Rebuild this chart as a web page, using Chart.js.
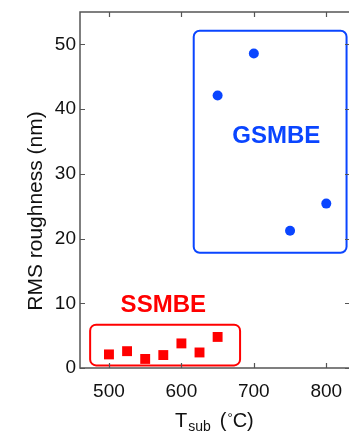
<!DOCTYPE html>
<html><head><meta charset="utf-8">
<script src="https://cdn.jsdelivr.net/npm/chart.js@4/dist/chart.umd.min.js"></script>
<style>html,body{margin:0;padding:0;background:#fff}#wrap{width:349px;height:435px;position:relative}</style>
</head><body><div id="wrap"><canvas id="c"></canvas></div>
<script>
// ---- data ----
const ssmbeTemp = [500, 525, 550, 575, 600, 625, 650];
const ssmbeRms  = [2.1, 2.6, 1.4, 2.0, 3.8, 2.4, 4.8];
const gsmbeTemp = [650, 700, 750, 800];
const gsmbeRms  = [42.1, 48.6, 21.2, 25.4];
const xTicks = [500, 600, 700, 800];
const yTicks = [0, 10, 20, 30, 40, 50];
const groupNames = ['SSMBE', 'GSMBE'];
// group boxes in data units: [xMin, xMax, yMin, yMax]
const groupBoxes = [[474, 681, 0.4, 6.7], [617, 828, 17.8, 52.1]];
// group label anchors in data units: [x, y]
const groupLabelAt = [[575, 9.6], [731, 35.8]];
const yTitle = 'RMS roughness (nm)';

const RED = '#ff0000', BLUE = '#0a45ff';
const groupColors = [RED, BLUE];
const FONT = '"Liberation Sans", Arial, sans-serif';

const decor = {
  id: 'decor',
  afterDatasetsDraw(chart) {
    const {ctx, scales: {x, y}} = chart;
    ctx.save();
    groupBoxes.forEach((b, i) => {
      const x0 = x.getPixelForValue(b[0]), x1 = x.getPixelForValue(b[1]);
      const y0 = y.getPixelForValue(b[3]), y1 = y.getPixelForValue(b[2]);
      ctx.beginPath();
      ctx.roundRect(x0, y0, x1 - x0, y1 - y0, 6);
      ctx.lineWidth = 2;
      ctx.strokeStyle = groupColors[i];
      ctx.stroke();
    });
    ctx.font = 'bold 24px ' + FONT;
    ctx.textAlign = 'center';
    ctx.textBaseline = 'middle';
    groupNames.forEach((n, i) => {
      ctx.fillStyle = groupColors[i];
      ctx.fillText(n, x.getPixelForValue(groupLabelAt[i][0]), y.getPixelForValue(groupLabelAt[i][1]));
    });
    ctx.restore();
  },
  afterDraw(chart) {
    const {ctx, chartArea: a, scales: {x, y}} = chart;
    ctx.save();
    ctx.strokeStyle = '#555';
    ctx.lineWidth = 1.5;
    ctx.strokeRect(a.left, a.top, a.right - a.left + 2, a.bottom - a.top);
    ctx.lineWidth = 1.2;
    ctx.beginPath();
    xTicks.forEach(v => {
      const px = Math.round(x.getPixelForValue(v)) + 0.5;
      ctx.moveTo(px, a.bottom); ctx.lineTo(px, a.bottom - 5);
      ctx.moveTo(px, a.top); ctx.lineTo(px, a.top + 5);
    });
    yTicks.forEach(v => {
      const py = Math.round(y.getPixelForValue(v)) + 0.5;
      ctx.moveTo(a.left, py); ctx.lineTo(a.left + 5, py);
      ctx.moveTo(a.right + 2, py); ctx.lineTo(a.right - 3, py);
    });
    ctx.stroke();
    ctx.fillStyle = '#111';
    ctx.font = '21px ' + FONT;
    ctx.textAlign = 'center';
    ctx.textBaseline = 'middle';
    ctx.translate(36, (a.top + a.bottom) / 2 + 21);
    ctx.rotate(-Math.PI / 2);
    ctx.fillText(yTitle, 0, 0);
    ctx.restore();
    ctx.save();
    ctx.fillStyle = '#111';
    ctx.textBaseline = 'alphabetic';
    ctx.textAlign = 'left';
    let cx = 175, base = 427;
    ctx.font = '20px ' + FONT; ctx.fillText('T', cx, base); cx += ctx.measureText('T').width;
    ctx.font = '14px ' + FONT; ctx.fillText('sub', cx + 1, base + 4); cx += ctx.measureText('sub').width + 1;
    ctx.font = '20px ' + FONT; cx += 9; ctx.fillText('(', cx, base); cx += ctx.measureText('(').width + 1;
    ctx.font = '13px ' + FONT; ctx.fillText('°', cx, base - 5); cx += ctx.measureText('°').width;
    ctx.font = '20px ' + FONT; ctx.fillText('C)', cx, base);
    ctx.restore();
  }
};

new Chart(document.getElementById('c'), {
  type: 'scatter',
  data: {
    datasets: [
      {label: groupNames[0], data: ssmbeTemp.map((t, i) => ({x: t, y: ssmbeRms[i]})),
       pointStyle: 'rect', pointRadius: 7, pointHoverRadius: 7,
       backgroundColor: RED, borderColor: RED, borderWidth: 0},
      {label: groupNames[1], data: gsmbeTemp.map((t, i) => ({x: t, y: gsmbeRms[i]})),
       pointStyle: 'circle', pointRadius: 5, pointHoverRadius: 5,
       backgroundColor: BLUE, borderColor: BLUE, borderWidth: 0}
    ]
  },
  options: {
    responsive: true, maintainAspectRatio: false, animation: false,
    layout: {padding: {top: 12, right: 1, left: 0, bottom: 0}, autoPadding: false},
    plugins: {legend: {display: false}, tooltip: {enabled: false}},
    scales: {
      x: {
        type: 'linear', min: 460, max: 830,
        afterBuildTicks: s => { s.ticks = xTicks.map(v => ({value: v})); },
        afterFit: s => { s.height = 67; s.paddingLeft = 0; s.paddingRight = 0; },
        grid: {display: false, drawTicks: false},
        border: {display: false},
        ticks: {padding: 12, color: '#111', font: {family: FONT, size: 19}}
      },
      y: {
        type: 'linear', min: 0, max: 55,
        afterBuildTicks: s => { s.ticks = yTicks.map(v => ({value: v})); },
        afterFit: s => { s.width = 80; s.paddingTop = 0; s.paddingBottom = 0; },
        grid: {display: false, drawTicks: false},
        border: {display: false},
        ticks: {padding: 4, color: '#111', font: {family: FONT, size: 19}}
      }
    }
  },
  plugins: [decor]
});
</script></body></html>
